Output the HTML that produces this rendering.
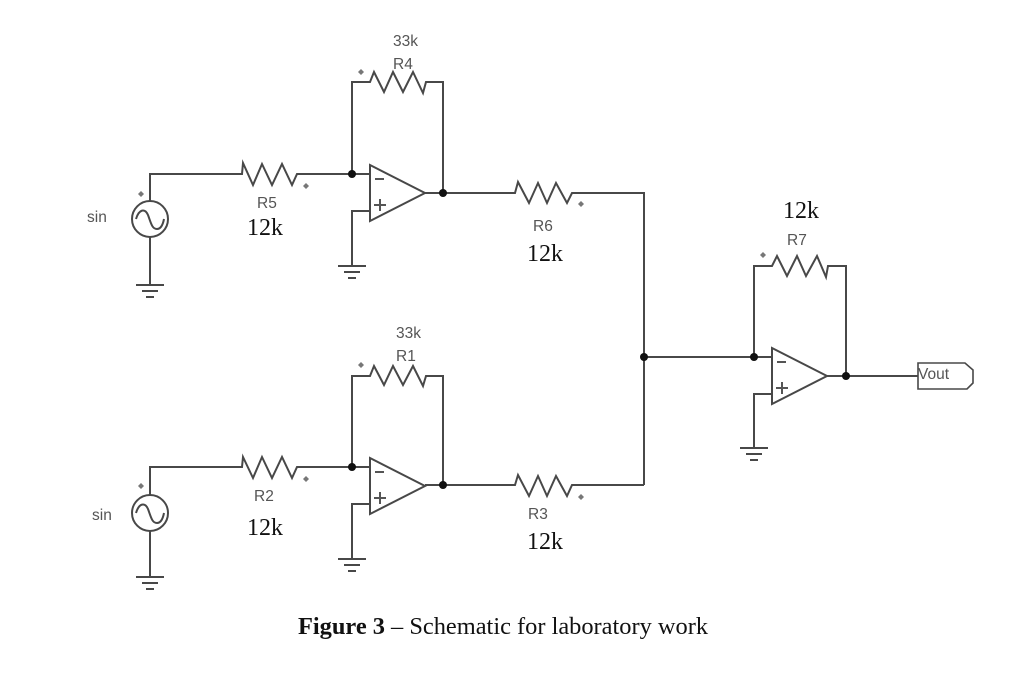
<!DOCTYPE html>
<html>
<head>
<meta charset="utf-8">
<style>
html,body{margin:0;padding:0;background:#fff;}
svg{display:block;}
.w{fill:none;stroke:#484848;stroke-width:2;stroke-linejoin:miter;}
.s{font-family:"Liberation Sans",sans-serif;font-size:15.5px;fill:#555;}
.t{font-family:"Liberation Serif",serif;font-size:24px;fill:#111;}
.c{font-family:"Liberation Serif",serif;font-size:24.4px;fill:#111;}
</style>
</head>
<body>
<svg width="1024" height="690" viewBox="0 0 1024 690" xmlns="http://www.w3.org/2000/svg">
<defs>
<g id="gnd"><path class="w" d="M-14 0H14M-8 6H8M-4 12H4"/></g>
<g id="src"><circle class="w" r="18"/><path class="w" d="M-14 0C-11 -10 -5 -11 -2 -4C1 4 2 10 7 10C11 10 13 5 14 0"/></g>
<g id="dia"><path d="M0 -3L3 0L0 3L-3 0Z" fill="#777"/></g>
<g id="oa">
<path class="w" d="M0 -28L55 0L0 28Z"/>
<path d="M5 -14H14" stroke="#555" stroke-width="2"/>
<path d="M4 12H16M10 6V18" stroke="#555" stroke-width="2"/>
</g>
<circle id="dot" r="4" fill="#111"/>
</defs>

<!-- top section -->
<path class="w" d="M150 201V174H242L243 163L253 185L262 164L272 185L282 164L292 185L297 174H370"/>
<path class="w" d="M150 237V285"/>
<use href="#src" x="150" y="219"/>
<use href="#gnd" x="150" y="285"/>
<use href="#dia" x="141" y="194"/>
<use href="#dia" x="306" y="186"/>
<path class="w" d="M352 174V82H370L374 72L384 92L393 72L403 92L413 72L423 93L426 82H443V193"/>
<use href="#dia" x="361" y="72"/>
<use href="#oa" x="370" y="193"/>
<path class="w" d="M370 211H352V266"/>
<use href="#gnd" x="352" y="266"/>
<path class="w" d="M425 193H515L518 182L529 203L538 183L547 203L556 183L567 203L572 193H644V485"/>
<use href="#dia" x="581" y="204"/>
<use href="#dot" x="352" y="174"/>
<use href="#dot" x="443" y="193"/>

<!-- bottom section -->
<path class="w" d="M150 495V467H242L243 457L253 478L262 457L272 478L282 457L292 478L297 467H370"/>
<path class="w" d="M150 531V577"/>
<use href="#src" x="150" y="513"/>
<use href="#gnd" x="150" y="577"/>
<use href="#dia" x="141" y="486"/>
<use href="#dia" x="306" y="479"/>
<path class="w" d="M352 467V376H370L374 366L384 385L393 366L403 385L413 366L423 386L426 376H443V485"/>
<use href="#dia" x="361" y="365"/>
<use href="#oa" x="370" y="486"/>
<path class="w" d="M370 504H352V559"/>
<use href="#gnd" x="352" y="559"/>
<path class="w" d="M425 485H515L518 475L529 496L538 476L547 496L556 476L567 496L572 485H644"/>
<use href="#dia" x="581" y="497"/>
<use href="#dot" x="352" y="467"/>
<use href="#dot" x="443" y="485"/>

<!-- right section -->
<path class="w" d="M644 357H772"/>
<path class="w" d="M754 357V266H772L777 256L787 276L797 256L806 276L817 256L826 277L828 266H846V376"/>
<use href="#dia" x="763" y="255"/>
<use href="#oa" x="772" y="376"/>
<path class="w" d="M772 394H754V448"/>
<use href="#gnd" x="754" y="448"/>
<path class="w" d="M827 376H918"/>
<path class="w" d="M918 363H965L973 370V383L967 389H918Z" style="stroke-width:1.6"/>
<use href="#dot" x="644" y="357"/>
<use href="#dot" x="754" y="357"/>
<use href="#dot" x="846" y="376"/>

<!-- labels -->
<text class="s" x="393" y="46">33k</text>
<text class="s" x="393" y="69">R4</text>
<text class="s" x="87" y="222">sin</text>
<text class="s" x="257" y="208">R5</text>
<text class="t" x="247" y="235">12k</text>
<text class="s" x="533" y="231">R6</text>
<text class="t" x="527" y="261">12k</text>
<text class="t" x="783" y="218">12k</text>
<text class="s" x="787" y="245">R7</text>
<text class="s" x="396" y="338">33k</text>
<text class="s" x="396" y="361">R1</text>
<text class="s" x="92" y="520">sin</text>
<text class="s" x="254" y="501">R2</text>
<text class="t" x="247" y="535">12k</text>
<text class="s" x="528" y="519">R3</text>
<text class="t" x="527" y="549">12k</text>
<text class="s" x="918" y="379">Vout</text>
<text class="c" x="298" y="634"><tspan font-weight="bold">Figure 3</tspan> – Schematic for laboratory work</text>
</svg>
</body>
</html>
